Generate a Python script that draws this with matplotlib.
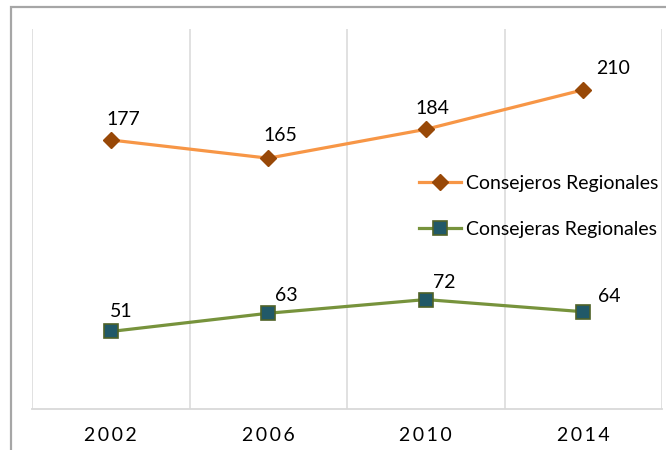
import matplotlib
matplotlib.use("Agg")
import matplotlib.pyplot as plt
from matplotlib.patches import Rectangle

years = ["2002", "2006", "2010", "2014"]
consejeros = [177, 165, 184, 210]
consejeras = [51, 63, 72, 64]
series_names = ["Consejeros Regionales", "Consejeras Regionales"]

plt.rcParams['font.family'] = ['Lato', 'DejaVu Sans']

W, H = 666, 450
FS = 14
fig = plt.figure(figsize=(W / 100, H / 100), dpi=100)
ax = fig.add_axes([32 / W, 1 - 409 / H, (662 - 32) / W, (409 - 29) / H])

x = list(range(len(years)))
ax.plot(x, consejeros, color="#F79646", lw=2.3, marker="D", ms=8.5,
        mfc="#984807", mec="#984807", zorder=3, label=series_names[0])
ax.plot(x, consejeras, color="#77933C", lw=2.3, marker="s", ms=9.5,
        mfc="#215968", mec="#4F6228", mew=1.2, zorder=3, label=series_names[1])

# label offsets in pixels (left edge dx, centre dy)
off1 = [(-4, 20), (-5, 23), (-10, 21), (13, 21)]
off2 = [(-1, 20), (7, 18), (7, 17), (15, 15)]
for xi, v, (dx, dy) in zip(x, consejeros, off1):
    ax.annotate(str(v), (xi, v), xytext=(dx * 0.72, dy * 0.72), textcoords="offset points",
                ha="left", va="center", fontsize=FS, color="#000000")
for xi, v, (dx, dy) in zip(x, consejeras, off2):
    ax.annotate(str(v), (xi, v), xytext=(dx * 0.72, dy * 0.72), textcoords="offset points",
                ha="left", va="center", fontsize=FS, color="#000000")

ax.set_xlim(-0.5, len(years) - 0.5)
ax.set_ylim(0, 250)
ax.set_yticks([])
ax.set_xticks(x)
ax.set_xticklabels(["\u2009".join(list(y)) for y in years], fontsize=FS)
ax.tick_params(axis="x", length=0, pad=13)
for b in [i - 0.5 for i in range(len(years) + 1)]:
    ax.axvline(b, color="#D9D9D9", lw=1.1, zorder=1)
for s in ["top", "right", "left"]:
    ax.spines[s].set_visible(False)
ax.spines["bottom"].set_color("#D9D9D9")
ax.spines["bottom"].set_linewidth(1.3)

leg = fig.legend(loc="upper left", bbox_to_anchor=(419 / W, 1 - 175 / H), frameon=False,
                 fontsize=FS, handlelength=2.15, handletextpad=0.26, labelspacing=1.47,
                 borderaxespad=0, borderpad=0)

fig.patches.append(Rectangle((11 / W, -0.1), 1.2, 1 - 7 / H + 0.1, transform=fig.transFigure,
                             fill=False, ec="#A6A6A6", lw=1.6, zorder=10))

fig.savefig("out.png", dpi=100)
